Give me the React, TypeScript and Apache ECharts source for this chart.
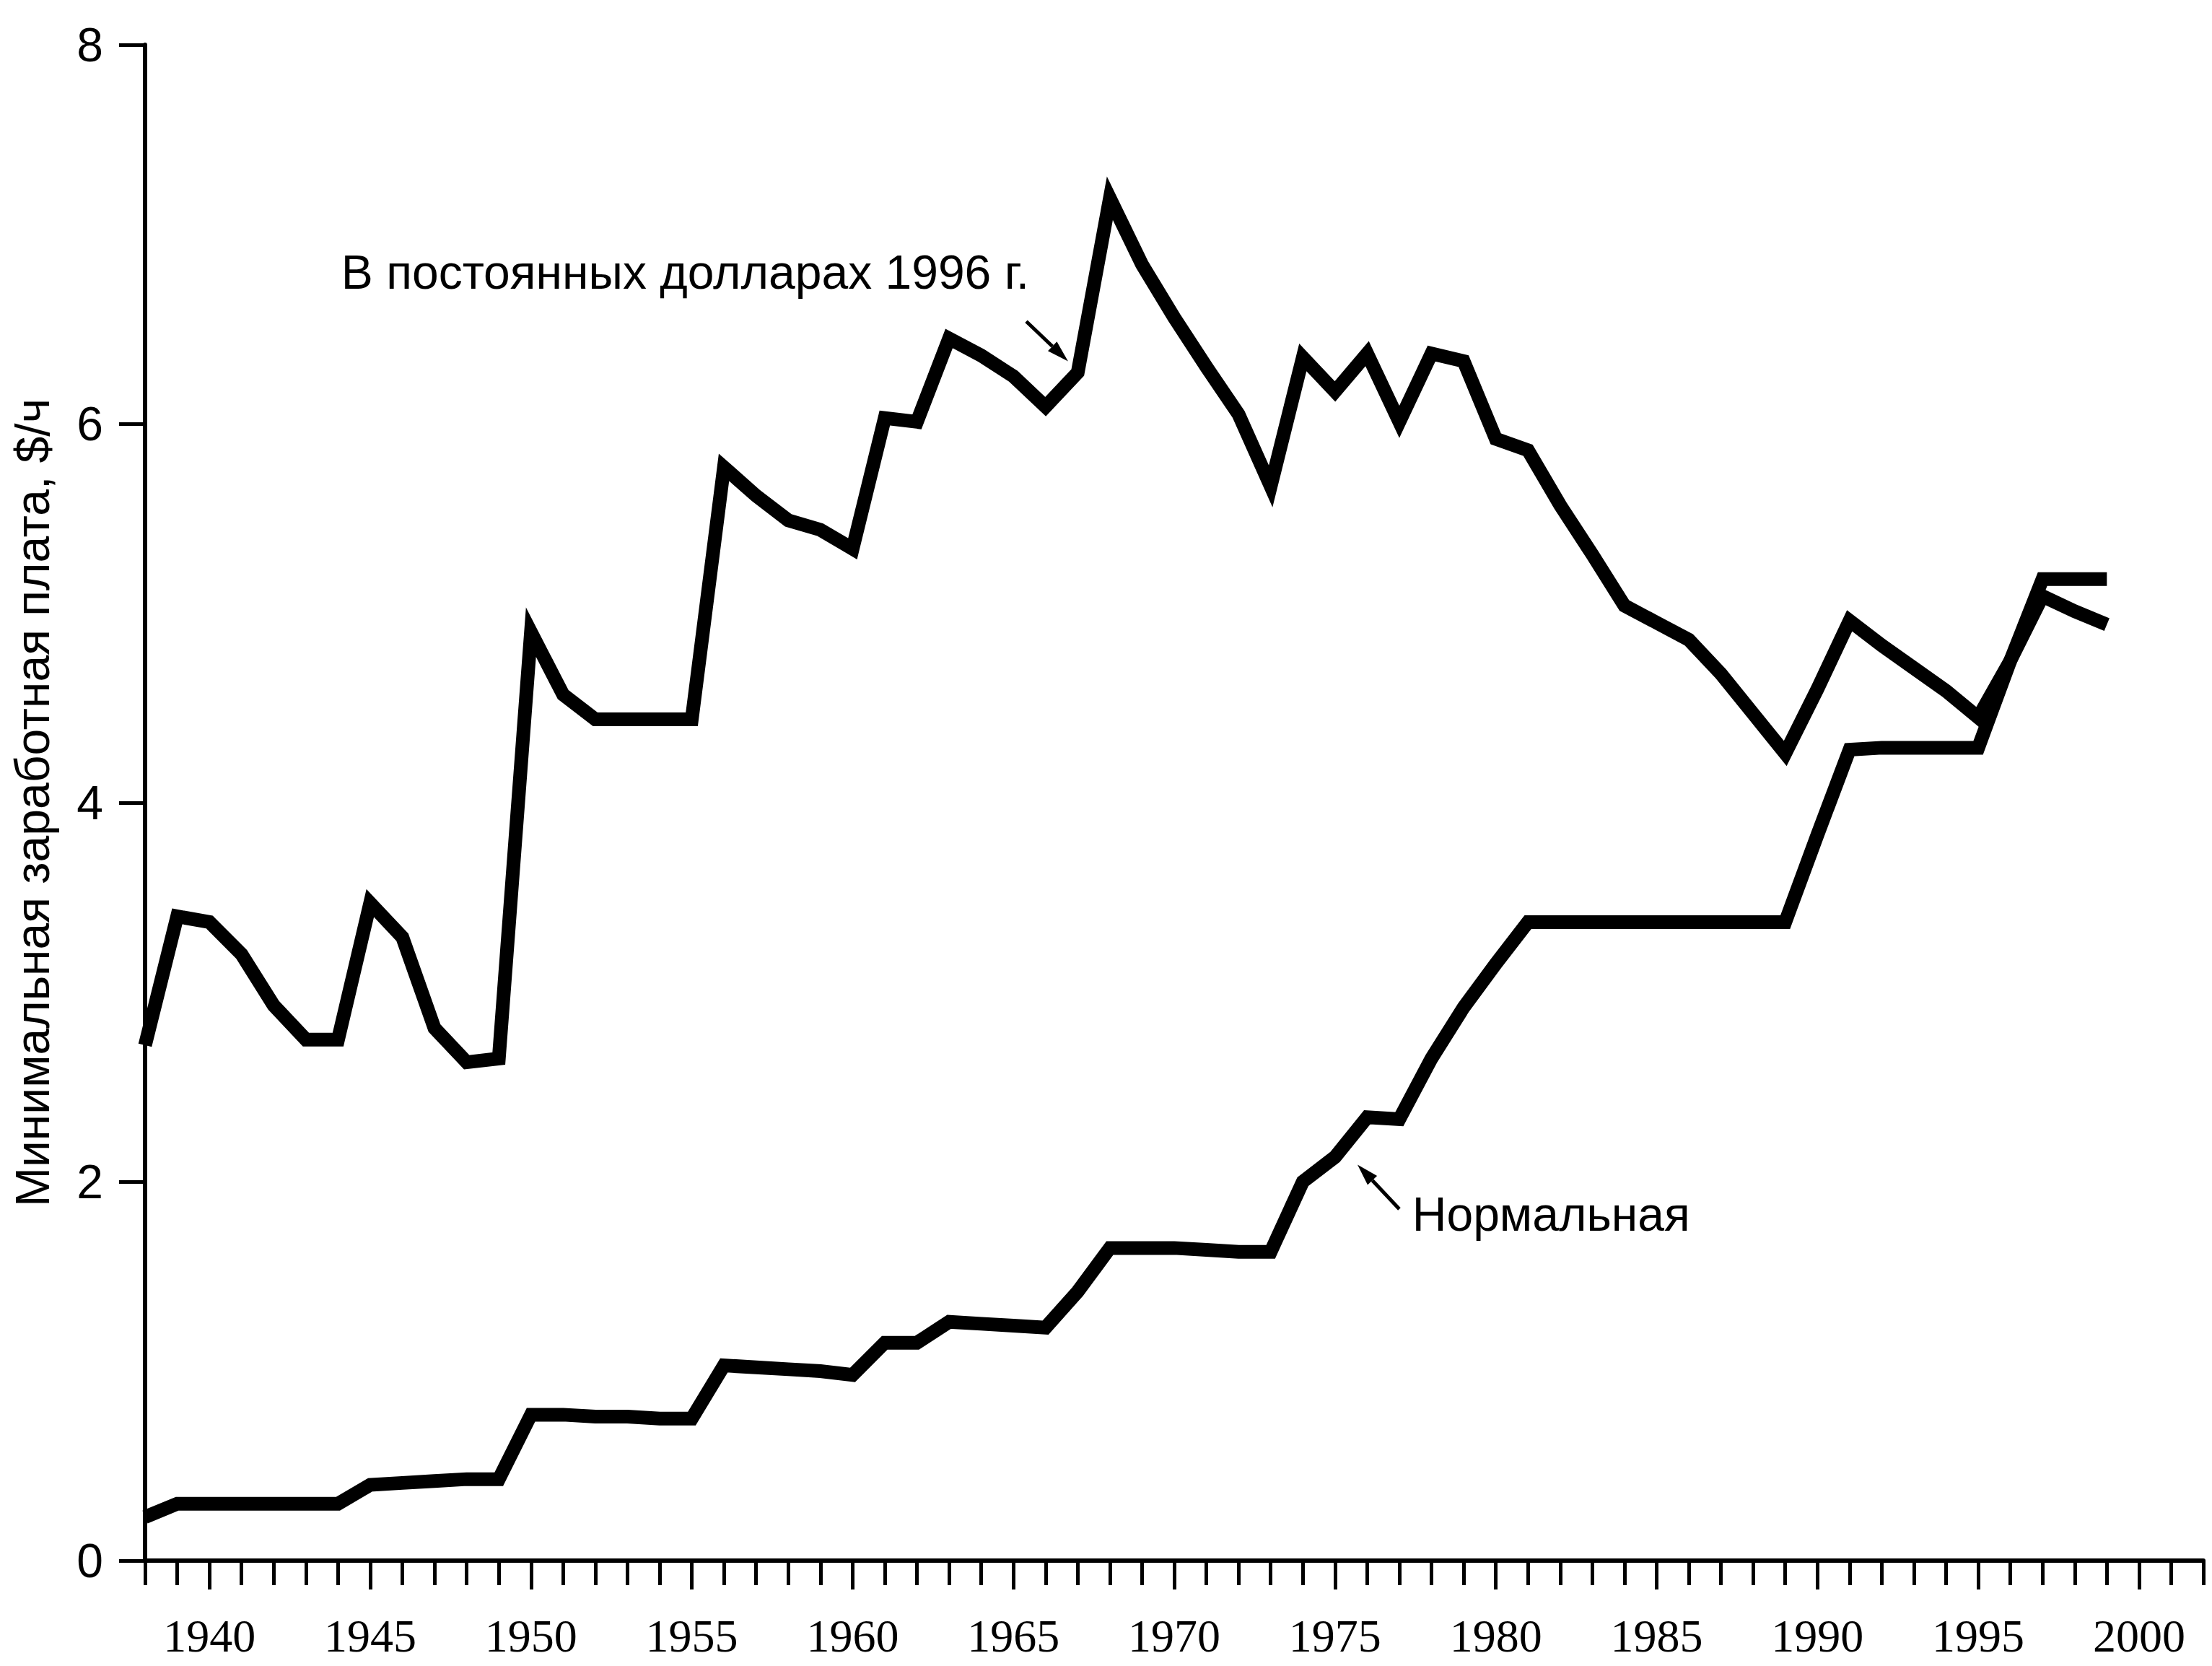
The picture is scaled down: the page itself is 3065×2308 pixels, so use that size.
import React, { useEffect, useRef } from "react";
import * as echarts from "echarts";

const years = [
  1938, 1939, 1940, 1941, 1942, 1943, 1944, 1945, 1946, 1947, 1948, 1949,
  1950, 1951, 1952, 1953, 1954, 1955, 1956, 1957, 1958, 1959, 1960, 1961,
  1962, 1963, 1964, 1965, 1966, 1967, 1968, 1969, 1970, 1971, 1972, 1973,
  1974, 1975, 1976, 1977, 1978, 1979, 1980, 1981, 1982, 1983, 1984, 1985,
  1986, 1987, 1988, 1989, 1990, 1991, 1992, 1993, 1994, 1995, 1996, 1997,
  1998, 1999,
];

// В постоянных долларах 1996 г.
const realWage = [
  2.72, 3.4, 3.37, 3.2, 2.93, 2.75, 2.75, 3.47, 3.29, 2.81, 2.63, 2.65,
  4.9, 4.57, 4.44, 4.44, 4.44, 4.44, 5.77, 5.62, 5.49, 5.44, 5.34, 6.03,
  6.01, 6.45, 6.36, 6.25, 6.09, 6.27, 7.19, 6.84, 6.56, 6.3, 6.05, 5.67,
  6.35, 6.17, 6.37, 6.01, 6.37, 6.33, 5.92, 5.86, 5.57, 5.31, 5.04, 4.95,
  4.86, 4.68, 4.47, 4.26, 4.6, 4.96, 4.83, 4.71, 4.59, 4.45, 4.75, 5.09,
  5.01, 4.94,
];

// Нормальная
const nominalWage = [
  0.23, 0.3, 0.3, 0.3, 0.3, 0.3, 0.3, 0.4, 0.41, 0.42, 0.43, 0.43,
  0.77, 0.77, 0.76, 0.76, 0.75, 0.75, 1.03, 1.02, 1.01, 1.0, 0.98, 1.15,
  1.15, 1.26, 1.25, 1.24, 1.23, 1.42, 1.65, 1.65, 1.65, 1.64, 1.63, 1.63,
  2.0, 2.13, 2.34, 2.33, 2.65, 2.92, 3.15, 3.37, 3.37, 3.37, 3.37, 3.37,
  3.37, 3.37, 3.37, 3.37, 3.83, 4.28, 4.29, 4.29, 4.29, 4.29, 4.75, 5.18,
  5.18, 5.18,
];

const tickYears = [
  1938, 1939, 1940, 1941, 1942, 1943, 1944, 1945, 1946, 1947, 1948, 1949,
  1950, 1951, 1952, 1953, 1954, 1955, 1956, 1957, 1958, 1959, 1960, 1961,
  1962, 1963, 1964, 1965, 1966, 1967, 1968, 1969, 1970, 1971, 1972, 1973,
  1974, 1975, 1976, 1977, 1978, 1979, 1980, 1981, 1982, 1983, 1984, 1985,
  1986, 1987, 1988, 1989, 1990, 1991, 1992, 1993, 1994, 1995, 1996, 1997,
  1998, 1999, 2000, 2001, 2002,
];
const labelYears = [
  1940, 1945, 1950, 1955, 1960, 1965, 1970, 1975, 1980, 1985, 1990, 1995, 2000,
];

const yAxisTitle = "Минимальная заработная плата, $/ч";
const realLabel = "В постоянных долларах 1996 г.";
const nominalLabel = "Нормальная";

// annotation anchors in data coordinates [year, value]
const realLabelAnchor = [1944.1, 6.8];
const realArrowTail = [1965.4, 6.54];
const realArrowHead = [1966.7, 6.33];
const nominalLabelAnchor = [1977.4, 1.83];
const nominalArrowTail = [1977.0, 1.855];
const nominalArrowHead = [1975.7, 2.09];

const SANS = '"Liberation Sans", Arial, sans-serif';
const SERIF = '"Liberation Serif", "Times New Roman", serif';

export default function App() {
  const ref = useRef<HTMLDivElement>(null);

  useEffect(() => {
    if (!ref.current) return;
    const chart = echarts.init(ref.current, null, { renderer: "svg" });
    const axisLine = { show: true, lineStyle: { color: "#000", width: 6 } };
    chart.setOption({
      animation: false,
      backgroundColor: "#ffffff",
      grid: { left: 201, right: 12, top: 62, bottom: 146, containLabel: false },
      xAxis: [
        {
          type: "value",
          min: 1938,
          max: 2002,
          position: "bottom",
          axisLine,
          axisTick: {
            show: true,
            customValues: tickYears,
            length: 34,
            lineStyle: { color: "#000", width: 5 },
          },
          axisLabel: {
            customValues: labelYears,
            fontFamily: SERIF,
            fontSize: 64,
            lineHeight: 64,
            color: "#000",
            margin: 72,
            formatter: (v: number) => String(v),
          },
          splitLine: { show: false },
        },
        {
          type: "value",
          min: 1938,
          max: 2002,
          position: "bottom",
          offset: 0,
          axisLine: { show: false },
          axisTick: {
            show: true,
            customValues: labelYears,
            length: 40,
            lineStyle: { color: "#000", width: 5 },
          },
          axisLabel: { show: false },
          splitLine: { show: false },
        },
      ],
      yAxis: {
        type: "value",
        min: 0,
        max: 8,
        interval: 2,
        axisLine,
        axisTick: { show: true, length: 36, lineStyle: { color: "#000", width: 5 } },
        axisLabel: { fontFamily: SANS, fontSize: 66, color: "#000", margin: 58 },
        splitLine: { show: false },
        name: yAxisTitle,
        nameLocation: "middle",
        nameRotate: 90,
        nameGap: 123,
        nameTextStyle: { fontFamily: SANS, fontSize: 66, color: "#000" },
      },
      series: [
        {
          name: realLabel,
          type: "line",
          xAxisIndex: 0,
          data: years.map((y, i) => [y, realWage[i]]),
          symbol: "none",
          lineStyle: { color: "#000", width: 19, join: "miter", miterLimit: 6 },
        },
        {
          name: nominalLabel,
          type: "line",
          xAxisIndex: 0,
          data: years.map((y, i) => [y, nominalWage[i]]),
          symbol: "none",
          lineStyle: { color: "#000", width: 19, join: "miter", miterLimit: 6 },
        },
      ],
    });

    const px = (p: number[]) => chart.convertToPixel({ gridIndex: 0 }, p) as number[];
    const arrow = (tail: number[], head: number[]) => {
      const t = px(tail);
      const h = px(head);
      const dx = h[0] - t[0];
      const dy = h[1] - t[1];
      const len = Math.sqrt(dx * dx + dy * dy);
      const ux = dx / len;
      const uy = dy / len;
      const hl = 30;
      const hw = 9;
      const bx = h[0] - ux * hl;
      const by = h[1] - uy * hl;
      return [
        {
          type: "line",
          shape: { x1: t[0], y1: t[1], x2: bx, y2: by },
          style: { stroke: "#000", lineWidth: 5 },
        },
        {
          type: "polygon",
          shape: {
            points: [
              [h[0], h[1]],
              [bx - uy * hw, by + ux * hw],
              [bx + uy * hw, by - ux * hw],
            ],
          },
          style: { fill: "#000" },
        },
      ];
    };
    const rl = px(realLabelAnchor);
    const nl = px(nominalLabelAnchor);
    chart.setOption({
      graphic: [
        {
          type: "text",
          x: rl[0],
          y: rl[1],
          style: {
            text: realLabel,
            fontFamily: SANS,
            fontSize: 66,
            fill: "#000",
            align: "left",
            verticalAlign: "middle",
          },
        },
        {
          type: "text",
          x: nl[0],
          y: nl[1],
          style: {
            text: nominalLabel,
            fontFamily: SANS,
            fontSize: 66,
            fill: "#000",
            align: "left",
            verticalAlign: "middle",
          },
        },
        ...arrow(realArrowTail, realArrowHead),
        ...arrow(nominalArrowTail, nominalArrowHead),
      ],
    });

    return () => chart.dispose();
  }, []);

  return (
    <div
      ref={ref}
      style={{ position: "absolute", left: 0, top: 0, width: 3065, height: 2308 }}
    />
  );
}
